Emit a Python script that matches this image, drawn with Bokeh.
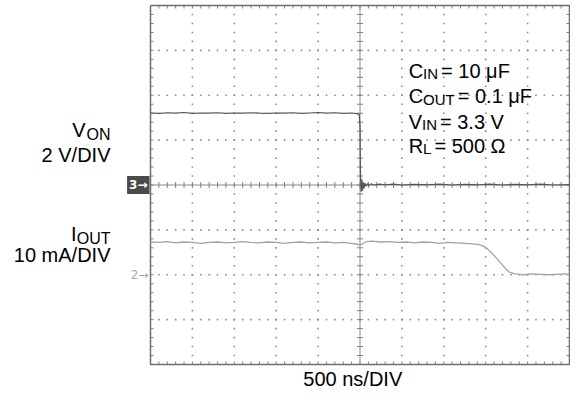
from bokeh.plotting import figure
from bokeh.models import Range1d, Label
from bokeh.embed import file_html
from bokeh.resources import INLINE
import numpy as np

# ---------------- data (read from the scope shot) ----------------
# Channel 3: V_ON (volts), 2 V/DIV, zero at the centre line
t_von_ns = [-2500, -2400, -2300, -2200, -2100, -2000, -1900, -1800, -1700, -1600,
            -1500, -1400, -1300, -1200, -1100, -1000, -900, -800, -700, -600,
            -500, -400, -300, -200, -100, -40, -10, 0, 6, 14,
            22, 30, 38, 48, 58, 72, 88, 105, 130, 170,
            230, 300, 400, 500, 650, 800, 950, 1100, 1250, 1400,
            1550, 1700, 1850, 2000, 2150, 2300, 2500]
von_v = [3.21, 3.19, 3.22, 3.20, 3.23, 3.19, 3.21, 3.20, 3.22, 3.19,
         3.21, 3.20, 3.22, 3.20, 3.19, 3.21, 3.20, 3.22, 3.19, 3.21,
         3.23, 3.20, 3.22, 3.19, 3.21, 3.18, 3.15, 2.60, 0.40, -0.30,
         0.25, -0.25, 0.12, -0.15, 0.08, -0.06, 0.06, -0.02, 0.05, 0.00,
         0.04, 0.01, 0.04, 0.00, 0.03, 0.01, 0.04, 0.00, 0.03, 0.01,
         0.04, 0.00, 0.03, 0.01, 0.04, 0.00, 0.02]

# Channel 2: I_OUT (mA), 10 mA/DIV, zero two divisions below centre
t_iout_ns = [-2500, -2400, -2300, -2200, -2100, -2000, -1900, -1800, -1700, -1600,
             -1500, -1400, -1300, -1200, -1100, -1000, -900, -800, -700, -600,
             -500, -400, -300, -200, -100, -30, 0, 30, 80, 150,
             250, 350, 450, 550, 650, 750, 850, 950, 1050, 1150,
             1250, 1350, 1420, 1480, 1530, 1580, 1630, 1680, 1730, 1780,
             1850, 1950, 2050, 2150, 2250, 2350, 2450, 2500]
iout_ma = [7.3, 7.2, 7.4, 7.1, 7.3, 7.2, 7.0, 7.2, 7.3, 7.1,
           7.2, 7.4, 7.2, 7.1, 7.3, 7.2, 7.0, 7.2, 7.3, 7.1,
           7.2, 7.3, 7.1, 7.2, 7.0, 6.8, 6.6, 6.9, 7.4, 7.5,
           7.3, 7.4, 7.2, 7.3, 7.1, 7.3, 7.2, 7.0, 7.2, 7.1,
           7.0, 6.9, 6.7, 6.3, 5.6, 4.7, 3.7, 2.6, 1.5, 0.6,
           0.2, 0.0, 0.2, 0.1, 0.0, 0.1, 0.2, 0.0]

NS_PER_DIV = 500.0
V_PER_DIV = 2.0
MA_PER_DIV = 10.0
CH3_ZERO_DIV = 0.0
CH2_ZERO_DIV = -2.0

x_von = np.array(t_von_ns) / NS_PER_DIV
y_von = np.array(von_v) / V_PER_DIV + CH3_ZERO_DIV
x_iout = np.array(t_iout_ns) / NS_PER_DIV
y_iout = np.array(iout_ma) / MA_PER_DIV + CH2_ZERO_DIV

# ---------------- layout ----------------
W, H = 570, 390
GL, GR, GT, GB = 150, 569, 5, 364      # graticule edges in canvas pixels
PX_X = (GR - GL) / 10.0
PX_Y = (GB - GT) / 8.0
XMIN = -5 - GL / PX_X
XMAX = 5 + (W - GR) / PX_X
YMAX = 4 + GT / PX_Y
YMIN = -4 - (H - GB) / PX_Y

p = figure(width=W, height=H, output_backend="svg", toolbar_location=None,
           x_range=Range1d(XMIN, XMAX), y_range=Range1d(YMIN, YMAX),
           x_axis_location=None, y_axis_location=None,
           min_border=0)
p.grid.visible = False
p.background_fill_color = "white"
p.border_fill_color = "white"
p.outline_line_color = None

GRID = "#8c8c8c"
# dotted graticule
dx, dy = [], []
for gx in [-4, -3, -2, -1, 1, 2, 3, 4]:
    for k in range(1, 40):
        dx.append(gx); dy.append(-4 + 0.2 * k)
for gy in [-3, -2, -1, 1, 2, 3]:
    for k in range(1, 50):
        dx.append(-5 + 0.2 * k); dy.append(gy)
p.scatter(dx, dy, marker="square", size=1.6, line_color=None, fill_color=GRID)

# centre cross
p.segment([-5, 0], [0, -4], [5, 0], [0, 4], line_color="#8a8a8a", line_width=1)

# minor ticks on centre lines and on the frame edges
tx = 3.0 / PX_X
ty = 3.0 / PX_Y
x0s, y0s, x1s, y1s = [], [], [], []
for k in range(1, 50):
    x = -5 + 0.2 * k
    x0s += [x, x, x]; x1s += [x, x, x]
    y0s += [-ty, -4, 4]; y1s += [ty, -4 + ty, 4 - ty]
for k in range(1, 40):
    y = -4 + 0.2 * k
    y0s += [y, y, y]; y1s += [y, y, y]
    x0s += [-tx, -5, 5]; x1s += [tx, -5 + tx, 5 - tx]
p.segment(x0s, y0s, x1s, y1s, line_color="#808080", line_width=1)

# graticule border
p.line([-5, 5, 5, -5, -5], [4, 4, -4, -4, 4], line_color="#6e6e6e", line_width=1.5)

# traces
p.line(x_iout, y_iout, line_color="#a3a3a3", line_width=1.3)
p.line(x_von, y_von, line_color="#555555", line_width=1.2)

FONT = "Liberation Sans"
SY = (GB - GT) / 373.0
SX = (GR - GL) / 435.0


def fy(ref_y):
    # reference pixel row -> canvas row for a text baseline
    return GT + (ref_y - 5) * SY - 4


def fx(ref_x):
    return GL + (ref_x - 150) * SX


def to_data(px, py):
    return -5 + (px - GL) / PX_X, 4 - (py - GT) / PX_Y


def txt(px, py, text, size, align="left", color="black", font=FONT):
    x, y = to_data(px, py)
    p.add_layout(Label(x=x, y=y, text=text, text_font=font,
                       text_font_size=f"{size}px", text_align=align,
                       text_baseline="alphabetic", text_color=color))


MAIN = 20
SUB_L = 16
SUB_R = 15

# left channel descriptions
txt(85, fy(138), "V", MAIN, "right")
txt(110, fy(143), "ON", SUB_L, "right")
txt(110, fy(165), "2 V/DIV", MAIN, "right")
txt(76, fy(247), "I", MAIN, "right")
txt(110, fy(251), "OUT", SUB_L, "right")
txt(110, fy(268), "10 mA/DIV", MAIN, "right")

# right-hand conditions
X0 = fx(418)
rows = [("C", 0.722, "IN", 1.000, "= 10 \u03bcF", 76.7),
        ("C", 0.722, "OUT", 2.111, "= 0.1 \u03bcF", 103.3),
        ("V", 0.667, "IN", 1.000, "= 3.3 V", 130),
        ("R", 0.722, "L", 0.556, "= 500 \u03a9", 155)]
for main, mw, sub, sw, rest, base in rows:
    b = fy(base)
    txt(X0, b, main, MAIN)
    xs = X0 + mw * MAIN
    txt(xs, b + 3, sub, SUB_R)
    txt(xs + sw * SUB_R + 3, b, rest, MAIN)

# time base
txt(fx(360), 378, "500 ns/DIV", MAIN, "center")

# channel markers
p.add_layout(Label(x=-5, y=CH3_ZERO_DIV, x_offset=-1, text="3\u2192",
                   text_font="DejaVu Sans", text_font_size="12px",
                   text_font_style="bold", text_color="white",
                   text_align="right", text_baseline="middle",
                   background_fill_color="#4a4a4a", padding=2))
p.add_layout(Label(x=-5, y=CH2_ZERO_DIV, x_offset=-2, text="2\u2192",
                   text_font="DejaVu Sans", text_font_size="12px",
                   text_color="#a8a8a8",
                   text_align="right", text_baseline="middle"))

open("out.html", "w").write(file_html(p, INLINE))
